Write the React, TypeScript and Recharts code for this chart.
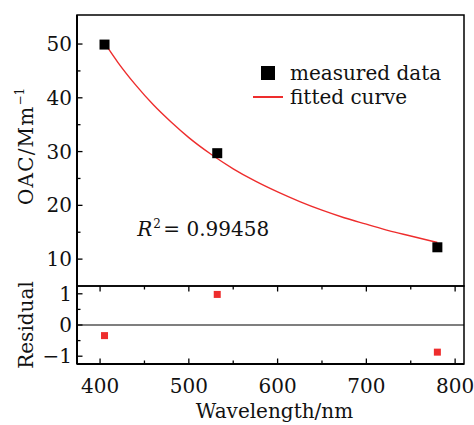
import React from 'react';
import {
  ComposedChart,
  ScatterChart,
  Scatter,
  Line,
  XAxis,
  YAxis,
  ReferenceArea,
  ReferenceLine,
  ReferenceDot,
  Legend,
} from 'recharts';

// ---------- data ----------
const wavelengths = [405, 532, 780];
const oacMeasured = [49.9, 29.7, 12.2];
const residuals = [-0.34, 0.98, -0.87];
const fitWavelengths = [405, 420, 440, 460, 480, 500, 525, 550, 575, 600, 625, 650, 675, 700, 725, 750, 780];
const fitValues = [50.2, 46.6, 42.4, 38.7, 35.5, 32.6, 29.5, 26.8, 24.5, 22.5, 20.7, 19.1, 17.7, 16.5, 15.3, 14.3, 13.1];

const xMajorTicks = [400, 500, 600, 700, 800];
const xMinorTicks = [450, 550, 650, 750];
const oacMajorTicks = [10, 20, 30, 40, 50];
const oacMinorTicks = [15, 25, 35, 45];
const resMajorTicks = [-1, 0, 1];
const resMinorTicks = [-0.5, 0.5];

const xDomain = [374, 810];
const oacDomain = [5, 55.4];
const resDomain = [-1.25, 1.25];

const r2Value = '0.99458';
const r2Anchor = { x: 442, y: 14.3 };

const legendLabels = ['measured data', 'fitted curve'];
const xTitle = 'Wavelength/nm';
const oacTitle = 'OAC/Mm';
const resTitle = 'Residual';

// ---------- derived tables ----------
const measuredData = wavelengths.map((w, i) => ({ x: w, oac: oacMeasured[i] }));
const fitData = fitWavelengths.map((w, i) => ({ x: w, fit: fitValues[i] }));
const residualData = wavelengths.map((w, i) => ({ x: w, res: residuals[i] }));

const sortNum = (a: number[]) => [...a].sort((p, q) => p - q);
const xTicks = sortNum([...xMajorTicks, ...xMinorTicks]);
const oacTicks = sortNum([...oacMajorTicks, ...oacMinorTicks]);
const resTicks = sortNum([...resMajorTicks, ...resMinorTicks]);

// ---------- styles ----------
const FONT = '"DejaVu Serif", "Liberation Serif", serif';
const FS = 20;
const INK = '#111';
const RED = '#ee2d2d';
const MAJOR = 5.5;
const MINOR = 3.5;
const RES_PANEL_H = 78;

const fmt = (v: number) => (v < 0 ? '\u2212' + Math.abs(v) : String(v));

function makeYTick(majors: number[]) {
  return (props: any) => {
    const { x, y, payload } = props;
    const major = majors.includes(payload.value);
    return (
      <g>
        <line x1={x} x2={x + (major ? MAJOR : MINOR)} y1={y} y2={y} stroke="#000" strokeWidth={1.3} />
        {major && (
          <text x={x - 5} y={y + 7} textAnchor="end" fontFamily={FONT} fontSize={FS} fill={INK}>
            {fmt(payload.value)}
          </text>
        )}
      </g>
    );
  };
}

function makeXTick(majors: number[]) {
  return (props: any) => {
    const { x, y, payload } = props;
    const major = majors.includes(payload.value);
    const len = major ? MAJOR : MINOR;
    const topY = y - RES_PANEL_H;
    return (
      <g>
        <line x1={x} x2={x} y1={y} y2={y - len} stroke="#000" strokeWidth={1.3} />
        <line x1={x} x2={x} y1={topY} y2={topY + len} stroke="#000" strokeWidth={1.3} />
        {major && (
          <text x={x} y={y + 29} textAnchor="middle" fontFamily={FONT} fontSize={FS} fill={INK}>
            {fmt(payload.value)}
          </text>
        )}
      </g>
    );
  };
}

const yTitle = (text: string, sup: string | null, fallbackY: number, fallbackH: number, shift: number) =>
  (props: any) => {
    const vb = props && props.viewBox ? props.viewBox : { x: 76, y: fallbackY, width: 1, height: fallbackH };
    const cx = vb.x + vb.width - 44;
    const cy = vb.y + vb.height / 2 + shift;
    return (
      <text
        x={cx}
        y={cy}
        transform={`rotate(-90 ${cx} ${cy})`}
        textAnchor="middle"
        fontFamily={FONT}
        fontSize={FS}
        fill={INK}
        letterSpacing={sup ? 1.2 : 0}
      >
        {text}
        {sup && (
          <tspan dy={-9} fontSize={12} letterSpacing={0}>
            {sup}
          </tspan>
        )}
      </text>
    );
  };

const xTitleContent = (props: any) => {
  const vb = props && props.viewBox ? props.viewBox : { x: 77, y: 94, width: 387, height: 1 };
  return (
    <text x={vb.x + vb.width / 2 + 4} y={vb.y + 54} textAnchor="middle" fontFamily={FONT} fontSize={FS} fill={INK}>
      {xTitle}
    </text>
  );
};

const r2Label = (props: any) => {
  const vb = props && props.viewBox ? props.viewBox : { x: 137, y: 236 };
  const x = vb.x;
  const y = vb.y;
  return (
    <text x={x} y={y} fontFamily={FONT} fontSize={FS} fill={INK}>
      <tspan fontStyle="italic">R</tspan>
      <tspan x={x + 16} dy={-8} fontSize={12}>2</tspan>
      <tspan x={x + 26} dy={8}>{'= ' + r2Value}</tspan>
    </text>
  );
};

const LegendBox = () => (
  <div style={{ fontFamily: FONT, fontSize: FS, color: INK, lineHeight: '24px' }}>
    <div style={{ display: 'flex', alignItems: 'center', height: 24 }}>
      <div style={{ width: 37, display: 'flex', alignItems: 'center' }}>
        <div style={{ marginLeft: 8, width: 14, height: 14, background: '#000' }} />
      </div>
      <span style={{ whiteSpace: 'nowrap' }}>{legendLabels[0]}</span>
    </div>
    <div style={{ display: 'flex', alignItems: 'center', height: 24 }}>
      <div style={{ width: 37, display: 'flex', alignItems: 'center' }}>
        <div style={{ width: 30, height: 1.5, background: RED }} />
      </div>
      <span style={{ whiteSpace: 'nowrap' }}>{legendLabels[1]}</span>
    </div>
  </div>
);

const blackSquare = (props: any) => (
  <rect x={props.cx - 5} y={props.cy - 5} width={10} height={10} fill="#000" />
);
const redSquare = (props: any) => (
  <rect x={props.cx - 3.5} y={props.cy - 3.5} width={7} height={7} fill={RED} />
);

export default function App() {
  return (
    <div style={{ position: 'absolute', left: 0, top: 0, width: 474, height: 425, background: '#fff' }}>
      <div style={{ position: 'absolute', left: 0, top: 0 }}>
        <ComposedChart width={474} height={300} margin={{ top: 15, right: 10, bottom: 14, left: 76 }}>
          <XAxis type="number" dataKey="x" domain={xDomain} hide allowDataOverflow />
          <YAxis
            type="number"
            domain={oacDomain}
            ticks={oacTicks}
            interval={0}
            width={1}
            tickSize={0}
            tickMargin={0}
            tickLine={false}
            axisLine={{ stroke: '#000', strokeWidth: 2 }}
            tick={makeYTick(oacMajorTicks)}
            allowDataOverflow
            label={yTitle(oacTitle, '\u22121', 15, 271, -4)}
          />
          <ReferenceArea
            x1={xDomain[0]}
            x2={xDomain[1]}
            y1={oacDomain[0]}
            y2={oacDomain[1]}
            fill="none"
            stroke="#000"
            strokeWidth={1.5}
            ifOverflow="visible"
          />
          <Scatter data={measuredData} dataKey="oac" shape={blackSquare} isAnimationActive={false} />
          <Line
            data={fitData}
            dataKey="fit"
            type="monotone"
            stroke={RED}
            strokeWidth={1.4}
            dot={false}
            activeDot={false}
            isAnimationActive={false}
          />
          <ReferenceDot x={r2Anchor.x} y={r2Anchor.y} r={0} fill="none" stroke="none" label={r2Label} />
          <Legend
            layout="horizontal"
            verticalAlign="middle"
            align="center"
            wrapperStyle={{ top: 61, left: 253, width: 210, height: 48 }}
            content={() => <LegendBox />}
          />
        </ComposedChart>
      </div>
      <div style={{ position: 'absolute', left: 0, top: 270 }}>
        <ScatterChart width={474} height={155} margin={{ top: 16, right: 10, bottom: 60, left: 76 }}>
          <XAxis
            type="number"
            dataKey="x"
            domain={xDomain}
            ticks={xTicks}
            interval={0}
            height={1}
            tickSize={0}
            tickMargin={0}
            tickLine={false}
            axisLine={{ stroke: '#000', strokeWidth: 2 }}
            tick={makeXTick(xMajorTicks)}
            allowDataOverflow
            label={xTitleContent}
          />
          <YAxis
            type="number"
            dataKey="res"
            domain={resDomain}
            ticks={resTicks}
            interval={0}
            width={1}
            tickSize={0}
            tickMargin={0}
            tickLine={false}
            axisLine={{ stroke: '#000', strokeWidth: 2 }}
            tick={makeYTick(resMajorTicks)}
            allowDataOverflow
            label={yTitle(resTitle, null, 16, 78, 0)}
          />
          <ReferenceArea
            x1={xDomain[0]}
            x2={xDomain[1]}
            y1={resDomain[0]}
            y2={resDomain[1]}
            fill="none"
            stroke="#000"
            strokeWidth={1.5}
            ifOverflow="visible"
          />
          <ReferenceLine y={0} stroke="#000" strokeWidth={1.2} />
          <Scatter data={residualData} dataKey="res" shape={redSquare} isAnimationActive={false} />
        </ScatterChart>
      </div>
    </div>
  );
}
